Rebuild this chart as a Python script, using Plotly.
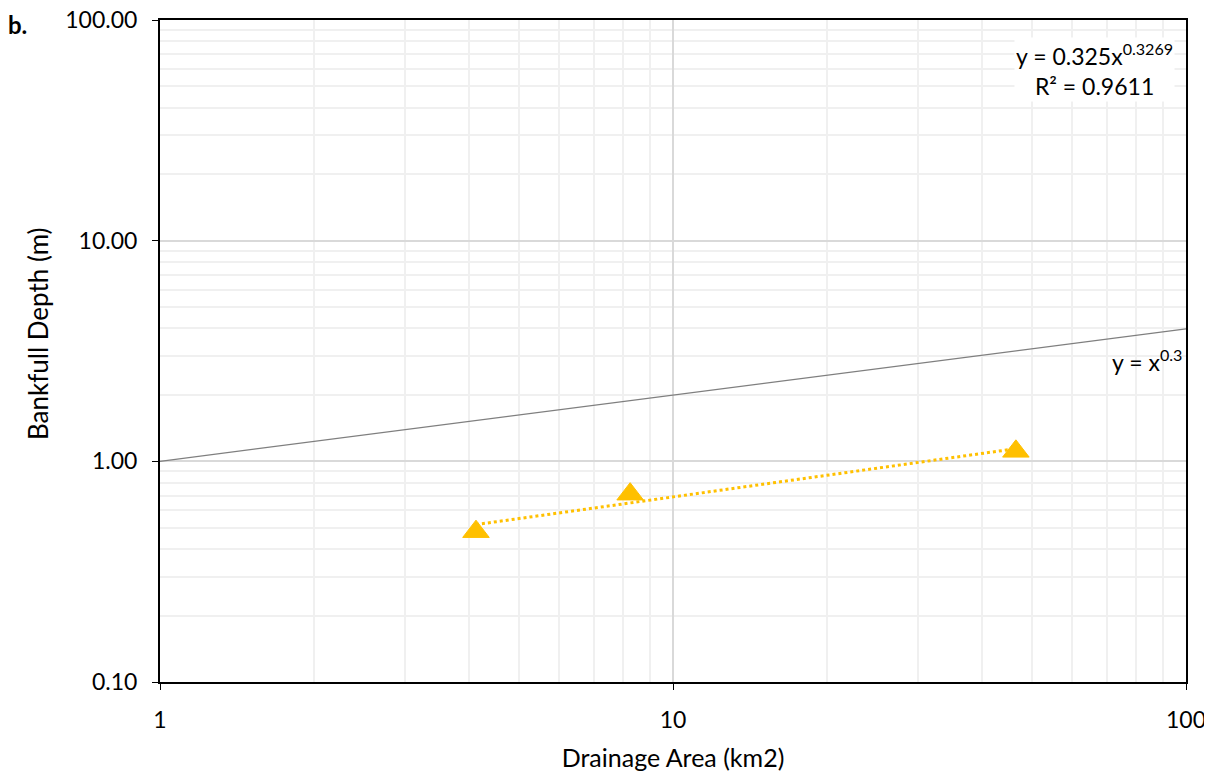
import numpy as np
import plotly.graph_objects as go

# Data
area_km2 = [4.13, 8.25, 46.6]
depth_m = [0.48, 0.71, 1.11]
fit_coef = 0.325
fit_exp = 0.3269
ref_exp = 0.3
ref_x = [1, 100]
x_ticks = [1, 10, 100]
x_ticktext = ["1", "10", "100"]
y_ticks = [0.1, 1, 10, 100]
y_ticktext = ["0.10", "1.00", "10.00", "100.00"]

FONT = "Lato, 'Open Sans', sans-serif"
GOLD = "#FFC000"
FS = 23

fig = go.Figure()

# reference line y = x^0.3
rx = np.array(ref_x, dtype=float)
fig.add_trace(go.Scatter(x=rx, y=rx ** ref_exp, mode="lines",
                         line=dict(color="#7f7f7f", width=1.2),
                         showlegend=False, hoverinfo="skip"))

# power trendline across data range
tx = np.array([min(area_km2), max(area_km2)])
fig.add_trace(go.Scatter(x=tx, y=fit_coef * tx ** fit_exp, mode="lines",
                         line=dict(color=GOLD, width=3, dash="dot"),
                         showlegend=False, hoverinfo="skip"))

# data points
fig.add_trace(go.Scatter(x=area_km2, y=depth_m, mode="markers",
                         marker=dict(symbol="triangle-up", size=23, color=GOLD,
                                     line=dict(width=1, color=GOLD)),
                         showlegend=False))

fig.update_layout(
    width=1204, height=766,
    margin=dict(l=152, r=26, t=12, b=92),
    paper_bgcolor="white", plot_bgcolor="white",
    font=dict(family=FONT, size=FS, color="black"),
    xaxis=dict(type="log", range=[0, 2], tickvals=x_ticks, ticktext=x_ticktext,
               ticks="outside", ticklen=6, tickcolor="black", ticklabelstandoff=10,
               ticklabeloverflow="allow",
               showline=True, linecolor="black", linewidth=2, mirror=True,
               showgrid=True, gridcolor="#d9d9d9", gridwidth=1.5,
               minor=dict(dtick="D1", showgrid=True, gridcolor="#f0f0f0", gridwidth=1.5),
               zeroline=False, automargin=False,
               title=dict(text="Drainage Area (km2)", standoff=18, font=dict(size=25)),
               tickfont=dict(size=FS)),
    yaxis=dict(type="log", range=[-1, 2], tickvals=y_ticks, ticktext=y_ticktext,
               ticks="outside", ticklen=6, tickcolor="black", ticklabelstandoff=10,
               ticklabeloverflow="allow",
               showline=True, linecolor="black", linewidth=2, mirror=True,
               showgrid=True, gridcolor="#d9d9d9", gridwidth=1.5,
               minor=dict(dtick="D1", showgrid=True, gridcolor="#f0f0f0", gridwidth=1.5),
               zeroline=False, automargin=False,
               tickfont=dict(size=FS)),
    annotations=[
        dict(text="Bankfull Depth (m)", xref="paper", yref="paper",
             x=-0.119, y=0.527, xanchor="center", yanchor="middle", textangle=-90,
             showarrow=False, font=dict(size=26)),
        dict(text="y = 0.325x<sup>0.3269</sup><br>R² = 0.9611", xref="paper", yref="paper",
             x=0.911, y=0.974, xanchor="center", yanchor="top", showarrow=False,
             align="center", bgcolor="white", font=dict(size=FS)),
        dict(text="y = x<sup>0.3</sup>", xref="paper", yref="paper",
             x=0.998, y=0.486, xanchor="right", yanchor="middle", showarrow=False,
             font=dict(size=FS)),
        dict(text="<b>b.</b>", xref="paper", yref="paper", x=-0.15, y=1.018,
             xanchor="left", yanchor="top", showarrow=False, font=dict(size=24)),
    ],
)

fig.write_html("out.html")
